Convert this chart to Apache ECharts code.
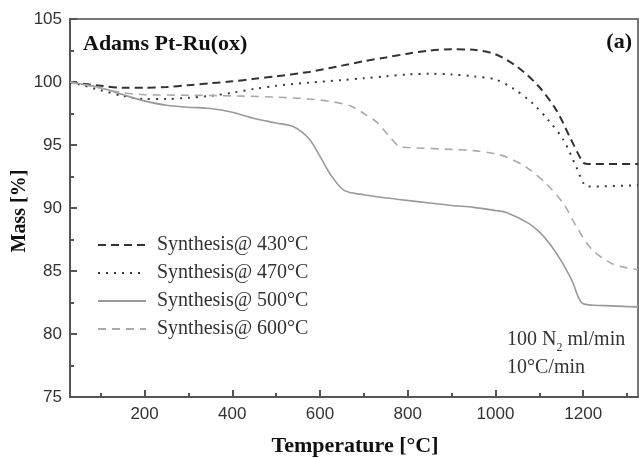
<!DOCTYPE html>
<html>
<head>
<meta charset="utf-8">
<script src="https://cdn.jsdelivr.net/npm/echarts@6/dist/echarts.min.js"></script>
<style>html,body{margin:0;padding:0;background:#fff;}#c{width:639px;height:458px;}</style>
</head>
<body>
<div id="c"></div>
<script>
const seriesNames = ['Synthesis@ 430°C', 'Synthesis@ 470°C', 'Synthesis@ 500°C', 'Synthesis@ 600°C'];
const xTickLabels = [200, 400, 600, 800, 1000, 1200];
const xMinorTicks = [100, 300, 500, 700, 900, 1100, 1300];
const s430 = [[30,100],[100,99.7],[150,99.55],[200,99.55],[250,99.6],[300,99.75],[350,99.9],[400,100.05],[450,100.25],[500,100.45],[575,100.8],[650,101.3],[700,101.65],[750,101.95],[800,102.25],[850,102.5],[900,102.6],[950,102.55],[1000,102.2],[1050,101.2],[1100,99.6],[1140,97.7],[1170,95.6],[1200,93.6],[1210,93.5],[1325,93.5]];
const s470 = [[30,100],[100,99.35],[150,98.9],[200,98.65],[250,98.65],[300,98.75],[350,98.9],[400,99.15],[450,99.45],[500,99.7],[575,99.95],[650,100.15],[700,100.3],[750,100.45],[800,100.6],[850,100.65],[900,100.6],[950,100.45],[1000,100.2],[1040,99.5],[1085,98.3],[1120,97],[1155,95.4],[1185,93.2],[1200,92],[1210,91.7],[1325,91.8]];
const s500 = [[30,100],[100,99.55],[150,99.0],[200,98.5],[250,98.15],[300,98.0],[350,97.9],[400,97.6],[450,97.1],[500,96.75],[540,96.45],[575,95.5],[600,94.1],[625,92.6],[655,91.4],[700,91.05],[775,90.7],[850,90.4],[900,90.2],[950,90.05],[1000,89.8],[1025,89.65],[1075,88.8],[1100,88.1],[1125,87.1],[1150,85.8],[1175,84.2],[1200,82.4],[1250,82.25],[1325,82.15]];
const s600 = [[30,100],[100,99.5],[150,99.15],[200,99.0],[300,98.95],[400,98.9],[500,98.8],[575,98.65],[625,98.45],[670,98.1],[700,97.5],[730,96.8],[755,95.8],[780,94.9],[800,94.8],[900,94.65],[950,94.55],[1000,94.3],[1025,94.05],[1070,93.25],[1115,91.95],[1155,90.35],[1185,88.5],[1220,86.7],[1265,85.6],[1300,85.25],[1325,85.1]];

const serif = 'Liberation Serif';
const sans = 'Liberation Sans';
const chart = echarts.init(document.getElementById('c'), null, {renderer: 'canvas'});
function mk(name, data, color, type, width) {
  return {name: name, type: 'line', data: data, symbol: 'none', smooth: 0.3, xAxisIndex: 0, yAxisIndex: 0,
    lineStyle: {color: color, type: type, width: width}, itemStyle: {color: color}, animation: false};
}
chart.setOption({
  animation: false,
  grid: {left: 70, right: 1, top: 19, bottom: 61, show: true, borderColor: '#777', borderWidth: 2},
  xAxis: [{
    type: 'value', min: 30, max: 1325, position: 'bottom',
    axisLine: {show: true, lineStyle: {color: '#555', width: 2}},
    axisTick: {show: true, inside: true, length: 7, customValues: xTickLabels, lineStyle: {color: '#555', width: 2}},
    axisLabel: {customValues: xTickLabels, color: '#333', fontFamily: sans, fontSize: 17, margin: 9,
      formatter: function (v) { return String(v); }},
    splitLine: {show: false}
  }, {
    type: 'value', min: 30, max: 1325, position: 'bottom',
    axisLine: {show: false},
    axisTick: {show: true, inside: true, length: 4, customValues: xMinorTicks, lineStyle: {color: '#555', width: 2}},
    axisLabel: {show: false}, splitLine: {show: false}
  }],
  yAxis: {
    type: 'value', min: 75, max: 105, interval: 5,
    axisLine: {show: true, lineStyle: {color: '#555', width: 2}},
    axisTick: {show: true, inside: true, length: 7, lineStyle: {color: '#555', width: 2}},
    minorTick: {show: true, splitNumber: 2, length: 4, lineStyle: {color: '#555', width: 2}},
    axisLabel: {color: '#333', fontFamily: sans, fontSize: 17, margin: 8},
    splitLine: {show: false}
  },
  legend: {
    orient: 'vertical', left: 97, top: 235, padding: 0, itemWidth: 48, itemHeight: 12, itemGap: 8,
    data: seriesNames,
    itemStyle: {opacity: 0},
    textStyle: {fontFamily: serif, fontSize: 20, color: '#333', lineHeight: 20, padding: [0, 0, 0, 6]}
  },
  series: [
    mk(seriesNames[0], s430, '#333333', [8, 5], 2),
    mk(seriesNames[1], s470, '#3a3a3a', [2, 6], 2),
    mk(seriesNames[2], s500, '#999999', 'solid', 1.6),
    mk(seriesNames[3], s600, '#aaaaaa', [8, 6], 1.6)
  ],
  graphic: [
    {type: 'text', left: 83, top: 33, style: {text: 'Adams Pt-Ru(ox)', font: 'bold 22px "Liberation Serif"', fill: '#111'}},
    {type: 'text', x: 632, y: 42, style: {text: '(a)', font: 'bold 22px "Liberation Serif"', fill: '#111', align: 'right', verticalAlign: 'middle'}},
    {type: 'text', left: 507, top: 326, style: {
      text: '100 N{sub|2} ml/min\n10°C/min', font: '20px "Liberation Serif"', fill: '#333', lineHeight: 28,
      rich: {sub: {fontSize: 12, fontFamily: serif, fill: '#333', verticalAlign: 'bottom', lineHeight: 28, padding: [10, 0, 0, 0]}}
    }},
    {type: 'text', x: 355, y: 446, style: {text: 'Temperature [°C]', font: 'bold 22px "Liberation Serif"', fill: '#111', align: 'center', verticalAlign: 'middle'}},
    {type: 'text', x: 20, y: 211, rotation: Math.PI / 2, style: {text: 'Mass [%]', font: 'bold 20px "Liberation Serif"', fill: '#111', align: 'center', verticalAlign: 'middle'}}
  ]
});
</script>
</body>
</html>
